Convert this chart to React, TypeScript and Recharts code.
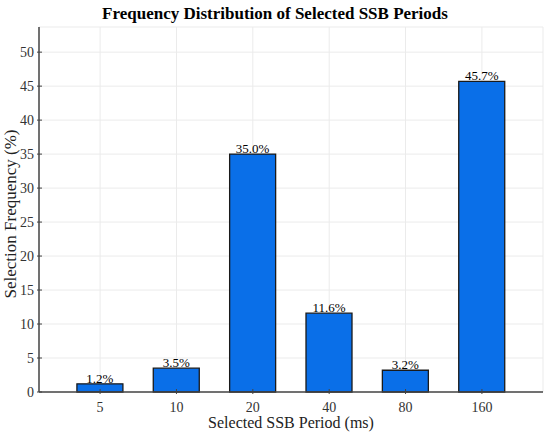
import { Bar, BarChart, CartesianGrid, LabelList, XAxis, YAxis } from "recharts";

const periods = ["5", "10", "20", "40", "80", "160"];
const frequencies = [1.2, 3.5, 35.0, 11.6, 3.2, 45.7];
const yTicks = [0, 5, 10, 15, 20, 25, 30, 35, 40, 45, 50];
const xTicks = [1, 2, 3, 4, 5, 6];

const data = periods.map((p, i) => ({ pos: i + 1, period: p, freq: frequencies[i] }));

const FONT = "'Liberation Serif', 'DejaVu Serif', serif";
const AXIS = "#444";
const serif = { fontFamily: FONT };

function renderXTick(props: any) {
    const { x, y, payload } = props;
    return (
        <g key={`xt-${payload.value}`}>
            <line x1={x} x2={x} y1={y - 6} y2={y - 11} stroke={AXIS} strokeWidth={1} />
            <text x={x} y={y + 12} textAnchor="middle" style={serif} fontSize={14} fill="#333">
                {periods[payload.value - 1]}
            </text>
        </g>
    );
}

function renderYTick(props: any) {
    const { x, y, payload } = props;
    return (
        <g key={`yt-${payload.value}`}>
            <line x1={x + 6} x2={x + 11} y1={y} y2={y} stroke={AXIS} strokeWidth={1} />
            <text x={x + 3} y={y + 5} textAnchor="end" style={serif} fontSize={14} fill="#333">
                {payload.value}
            </text>
        </g>
    );
}

function renderBarLabel(props: any) {
    const { x, y, width, value } = props;
    return (
        <text x={x + width / 2} y={y - 1} textAnchor="middle" style={serif} fontSize={13} fill="#000">
            {`${Number(value).toFixed(1)}%`}
        </text>
    );
}

export default function App() {
    return (
        <div style={{ width: 550, height: 433, position: "relative", background: "#fff" }}>
            <style>{`body{margin:0}`}</style>
            <BarChart
                width={550}
                height={433}
                data={data}
                margin={{ top: 27, right: 7, left: 0, bottom: 0 }}
            >
                <text x={275} y={19} textAnchor="middle" style={serif} fontSize={17} fontWeight="bold" fill="#000">
                    Frequency Distribution of Selected SSB Periods
                </text>
                <text
                    x={0}
                    y={0}
                    transform="translate(16, 214) rotate(-90)"
                    textAnchor="middle"
                    style={serif}
                    fontSize={17}
                    fill="#222"
                >
                    Selection Frequency (%)
                </text>
                <CartesianGrid stroke="#ebebeb" strokeWidth={1} />
                <XAxis
                    dataKey="pos"
                    type="number"
                    domain={[0.2, 6.8]}
                    ticks={xTicks}
                    interval={0}
                    height={41}
                    axisLine={{ stroke: AXIS, strokeWidth: 1.5 }}
                    tickLine={false}
                    tick={renderXTick}
                    label={{
                        value: "Selected SSB Period (ms)",
                        position: "insideBottom",
                        offset: 5,
                        fontSize: 16,
                        fill: "#222",
                        style: serif,
                    }}
                />
                <YAxis
                    type="number"
                    domain={[0, 53.7]}
                    ticks={yTicks}
                    interval={0}
                    width={39}
                    axisLine={{ stroke: AXIS, strokeWidth: 1.5 }}
                    tickLine={false}
                    tick={renderYTick}
                />
                <Bar dataKey="freq" fill="#0A6FE8" stroke="#1a1a1a" strokeWidth={1.3} barSize={46} isAnimationActive={false}>
                    <LabelList dataKey="freq" content={renderBarLabel} />
                </Bar>
            </BarChart>
        </div>
    );
}
